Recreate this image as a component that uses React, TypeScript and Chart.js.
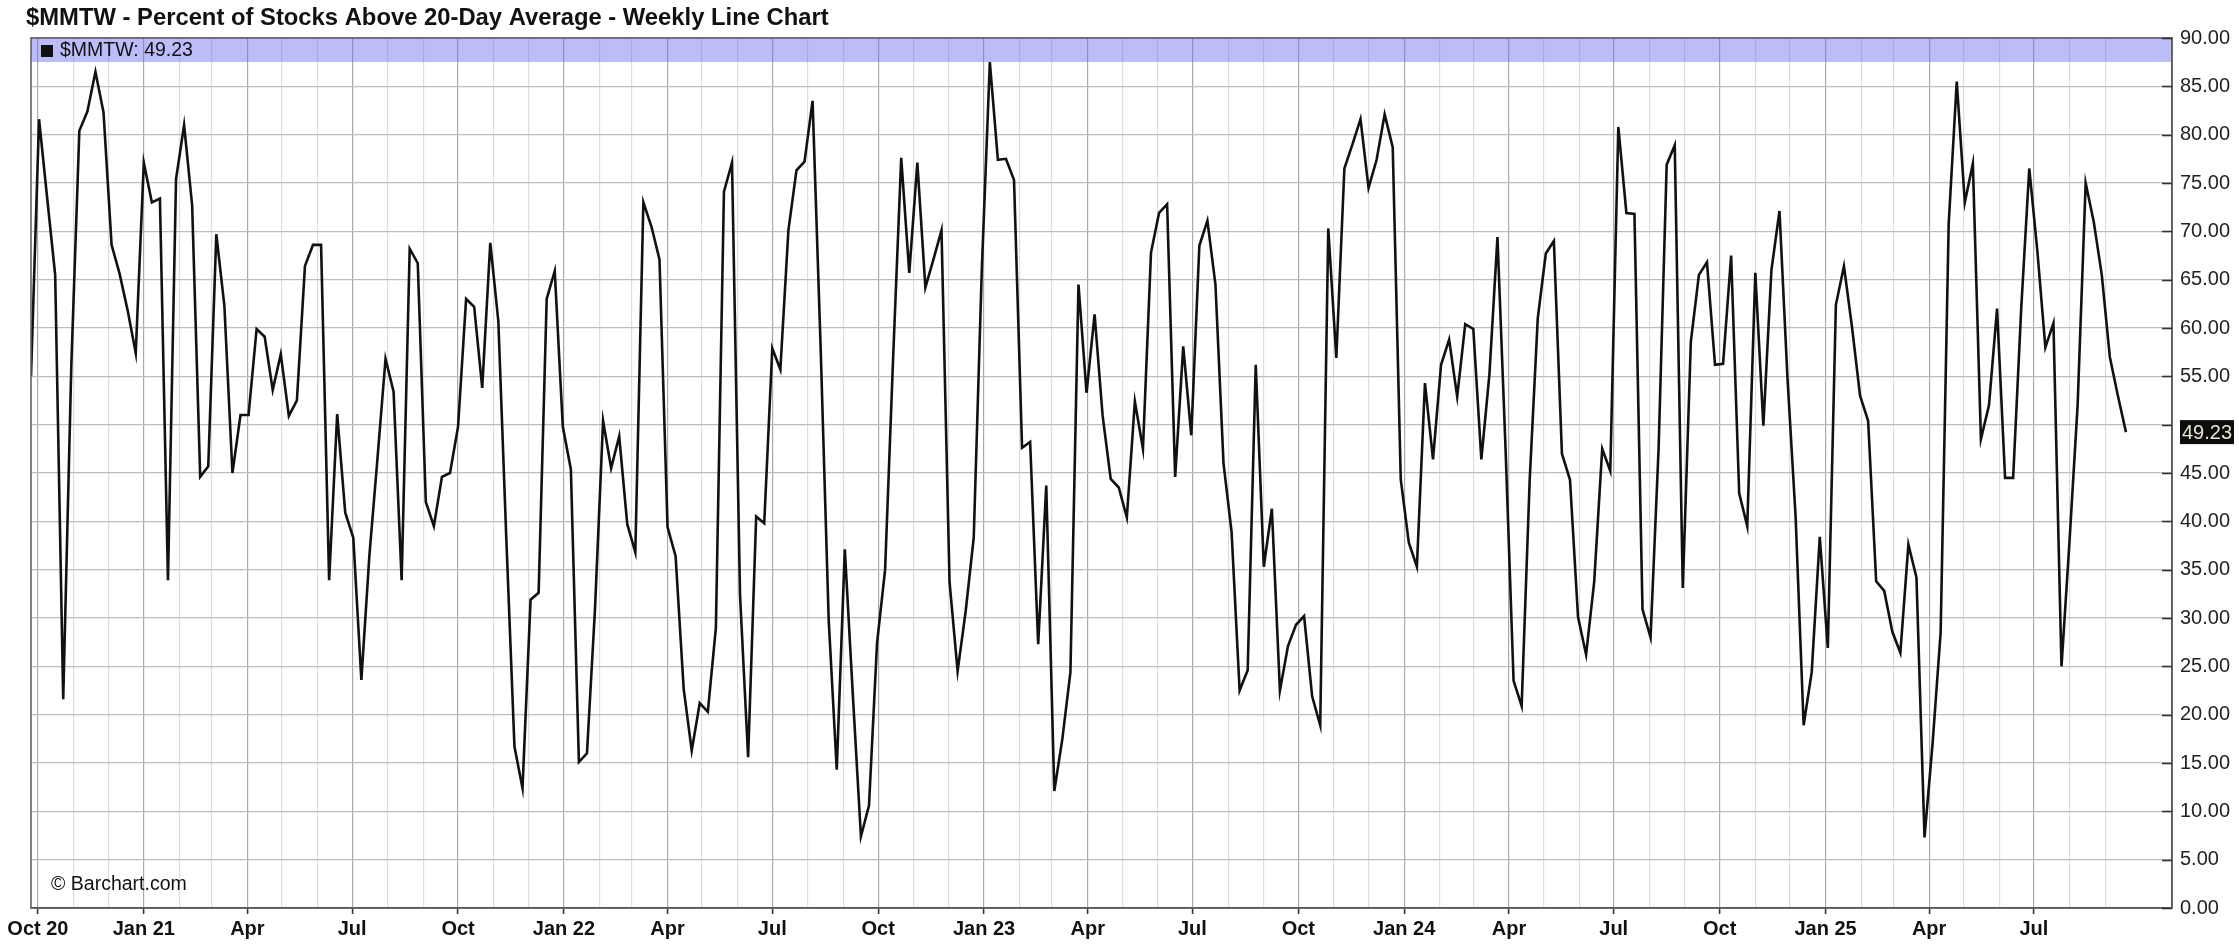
import React, { useEffect, useRef } from 'react';
import { Chart, registerables } from 'chart.js';

Chart.register(...registerables);

const TITLE = '$MMTW - Percent of Stocks Above 20-Day Average - Weekly Line Chart';
const SYMBOL = '$MMTW';
const WATERMARK = '\u00A9 Barchart.com';

// first weekly close: Fri 25 Sep 2020, one value per week
const FIRST_WEEK = { y: 2020, m: 8, d: 25 };

const values: number[] = [
  55.0, 81.6, 73.5, 65.5, 21.6, 56.0, 80.4, 82.4, 86.5, 82.3,
  68.6, 65.6, 61.8, 57.4, 77.1, 73.0, 73.4, 33.9, 75.4, 81.0,
  72.7, 44.6, 45.7, 69.7, 62.3, 45.0, 51.0, 51.0, 59.9, 59.1,
  53.6, 57.3, 50.9, 52.5, 66.4, 68.6, 68.6, 33.9, 51.1, 40.9,
  38.3, 23.6, 36.5, 46.5, 56.8, 53.4, 33.9, 68.2, 66.7, 42.0,
  39.5, 44.6, 45.0, 49.8, 63.0, 62.2, 53.8, 68.8, 60.7, 38.0,
  16.7, 12.4, 31.9, 32.6, 63.0, 65.9, 49.8, 45.4, 15.1, 16.0,
  31.0, 50.4, 45.5, 48.8, 39.7, 36.8, 73.0, 70.5, 67.1, 39.4,
  36.4, 22.7, 16.3, 21.2, 20.3, 29.0, 74.1, 77.1, 32.3, 15.6,
  40.5, 39.8, 57.9, 55.7, 70.1, 76.3, 77.2, 83.5, 58.0, 29.8,
  14.3, 37.1, 22.0, 7.4, 10.6, 27.4, 35.0, 57.0, 77.6, 65.7,
  77.1, 64.2, 67.1, 70.1, 33.7, 24.5, 30.7, 38.3, 66.0, 87.5,
  77.4, 77.5, 75.3, 47.6, 48.2, 27.3, 43.7, 12.1, 17.5, 24.4,
  64.5, 53.3, 61.4, 50.9, 44.4, 43.5, 40.4, 52.4, 47.5, 67.8,
  71.9, 72.8, 44.6, 58.1, 48.9, 68.5, 71.1, 64.5, 46.0, 38.9,
  22.5, 24.6, 56.2, 35.3, 41.3, 22.5, 27.1, 29.3, 30.2, 21.9,
  18.9, 70.3, 56.9, 76.5, 79.0, 81.6, 74.5, 77.4, 82.1, 78.7,
  44.3, 37.8, 35.3, 54.3, 46.4, 56.2, 58.8, 52.9, 60.4, 59.9,
  46.4, 55.2, 69.4, 47.6, 23.5, 20.9, 44.3, 61.0, 67.7, 69.0,
  47.0, 44.3, 30.1, 26.2, 33.7, 47.5, 45.2, 80.8, 71.9, 71.8,
  30.9, 28.0, 47.6, 76.9, 78.9, 33.1, 58.6, 65.5, 66.8, 56.2,
  56.3, 67.5, 42.9, 39.5, 65.7, 49.9, 66.0, 72.1, 54.7, 40.5,
  18.9, 24.4, 38.4, 26.9, 62.4, 66.4, 60.1, 53.0, 50.4, 33.8,
  32.8, 28.6, 26.4, 37.6, 34.2, 7.3, 17.0, 28.5, 70.8, 85.5,
  73.0, 77.0, 48.5, 52.0, 62.0, 44.5, 44.5, 62.0, 76.5, 68.0,
  58.0, 60.5, 25.0, 38.0, 52.0, 75.0, 71.0, 65.5, 57.0, 53.0,
  49.23,
];

// quarter tick labels, starting Oct 2020, every 3 months
const quarterLabels: string[] = [
  'Oct 20', 'Jan 21', 'Apr', 'Jul', 'Oct', 'Jan 22', 'Apr', 'Jul', 'Oct',
  'Jan 23', 'Apr', 'Jul', 'Oct', 'Jan 24', 'Apr', 'Jul', 'Oct', 'Jan 25', 'Apr', 'Jul',
];
const FIRST_TICK_MONTH = { y: 2020, m: 9 }; // Oct 2020
const MONTH_COUNT = 60; // Oct 2020 .. Sep 2025 gridlines

const Y_MIN = 0;
const Y_MAX = 90;
const Y_STEP = 5;

const DAY_MS = 86400000;
const T0 = Date.UTC(FIRST_WEEK.y, FIRST_WEEK.m, FIRST_WEEK.d);
const dayOf = (y: number, m: number, d = 1) => (Date.UTC(y, m, d) - T0) / DAY_MS;

const points = values.map((v, i) => ({ x: i * 7, y: v }));
const monthTicks = Array.from({ length: MONTH_COUNT }, (_, k) => {
  const x = dayOf(FIRST_TICK_MONTH.y, FIRST_TICK_MONTH.m + k, 1);
  const isQ = k % 3 === 0;
  return { x, isQ, label: isQ ? quarterLabels[k / 3] || '' : '' };
});
const tickAt = (v: number) => monthTicks.find((t) => Math.abs(t.x - v) < 0.01);
const lastValue = values[values.length - 1];

const FONT = 'Liberation Sans, Arial, sans-serif';

const overlay = {
  id: 'barchartOverlay',
  beforeDatasetsDraw(chart: any) {
    const { ctx, chartArea } = chart;
    ctx.save();
    ctx.fillStyle = 'rgba(110,110,242,0.46)';
    ctx.fillRect(chartArea.left, chartArea.top, chartArea.right - chartArea.left, 24);
    ctx.restore();
  },
  afterDatasetsDraw(chart: any) {
    const { ctx, chartArea } = chart;
    const yS = chart.scales.y;
    ctx.save();
    // frame
    ctx.strokeStyle = '#5a5a5a';
    ctx.lineWidth = 1.5;
    ctx.strokeRect(chartArea.left, chartArea.top, chartArea.right - chartArea.left, chartArea.bottom - chartArea.top);
    // y tick marks inside the plot on the right
    ctx.strokeStyle = '#333';
    ctx.lineWidth = 1.6;
    for (let v = Y_MIN; v <= Y_MAX; v += Y_STEP) {
      const py = Math.round(yS.getPixelForValue(v)) + 0.5;
      ctx.beginPath();
      ctx.moveTo(chartArea.right - 10, py);
      ctx.lineTo(chartArea.right, py);
      ctx.stroke();
    }
    // legend in band
    ctx.fillStyle = '#111';
    ctx.fillRect(chartArea.left + 10, chartArea.top + 7, 12, 12);
    ctx.font = `19.5px ${FONT}`;
    ctx.textBaseline = 'middle';
    ctx.textAlign = 'left';
    ctx.fillText(`${SYMBOL}: ${lastValue.toFixed(2)}`, chartArea.left + 29, chartArea.top + 13);
    // watermark
    ctx.font = `19.5px ${FONT}`;
    ctx.fillStyle = '#111';
    ctx.fillText(WATERMARK, chartArea.left + 20, chartArea.bottom - 23);
    // last value box on the axis
    const ly = yS.getPixelForValue(lastValue);
    ctx.fillStyle = '#0c0c0c';
    ctx.fillRect(chartArea.right + 8, ly - 12, 54, 24);
    ctx.fillStyle = '#e9e4cf';
    ctx.font = `20px ${FONT}`;
    ctx.fillText(lastValue.toFixed(2), chartArea.right + 10, ly + 1);
    // title
    ctx.fillStyle = '#111';
    ctx.font = `bold 23.8px ${FONT}`;
    ctx.textBaseline = 'alphabetic';
    ctx.fillText(TITLE, 26, 25);
    ctx.restore();
  },
};

export default function App() {
  const ref = useRef<HTMLCanvasElement | null>(null);

  useEffect(() => {
    if (!ref.current) return;
    const chart = new Chart(ref.current, {
      type: 'line',
      data: {
        datasets: [
          {
            data: points,
            borderColor: '#111',
            borderWidth: 2.6,
            pointRadius: 0,
            tension: 0,
            fill: false,
          },
        ],
      },
      options: {
        animation: false,
        responsive: false,
        devicePixelRatio: 1,
        layout: { padding: { left: 31, top: 38, right: 0, bottom: 0 } },
        plugins: {
          legend: { display: false },
          tooltip: { enabled: false },
          title: { display: false },
        },
        scales: {
          x: {
            type: 'linear',
            min: 0,
            max: 1860,
            afterBuildTicks: (s: any) => {
              s.ticks = monthTicks.map((t) => ({ value: t.x }));
            },
            afterFit: (s: any) => {
              s.height = 41;
            },
            ticks: {
              autoSkip: false,
              maxRotation: 0,
              minRotation: 0,
              padding: 3,
              color: '#111',
              font: { family: FONT, size: 20, weight: 'bold' },
              callback: (v: any) => {
                const t = tickAt(Number(v));
                return t ? t.label : '';
              },
            },
            grid: {
              color: (c: any) => {
                const t = c.tick ? tickAt(c.tick.value) : null;
                return t && t.isQ ? '#a9a9a9' : '#dedede';
              },
              lineWidth: 1.2,
              tickLength: 6,
              tickColor: (c: any) => {
                const t = c.tick ? tickAt(c.tick.value) : null;
                return t && t.isQ ? '#333' : 'rgba(0,0,0,0)';
              },
              tickWidth: 1.6,
            },
            border: { display: true, color: '#555', width: 1.5 },
          },
          y: {
            position: 'right',
            min: Y_MIN,
            max: Y_MAX,
            afterFit: (s: any) => {
              s.width = 67;
            },
            ticks: {
              stepSize: Y_STEP,
              padding: 8,
              color: '#222',
              font: { family: FONT, size: 20 },
              callback: (v: any) => (Math.abs(Number(v) - lastValue) < 3 ? '' : Number(v).toFixed(2)),
            },
            grid: { color: '#bdbdbd', lineWidth: 1.2, drawTicks: false },
            border: { display: true, color: '#555', width: 1.5 },
          },
        },
      } as any,
      plugins: [overlay],
    });
    return () => chart.destroy();
  }, []);

  return (
    <div style={{ position: 'fixed', left: 0, top: 0, width: 2239, height: 949, background: '#fff' }}>
      <canvas ref={ref} width={2239} height={949} style={{ width: 2239, height: 949, display: 'block' }} />
    </div>
  );
}
